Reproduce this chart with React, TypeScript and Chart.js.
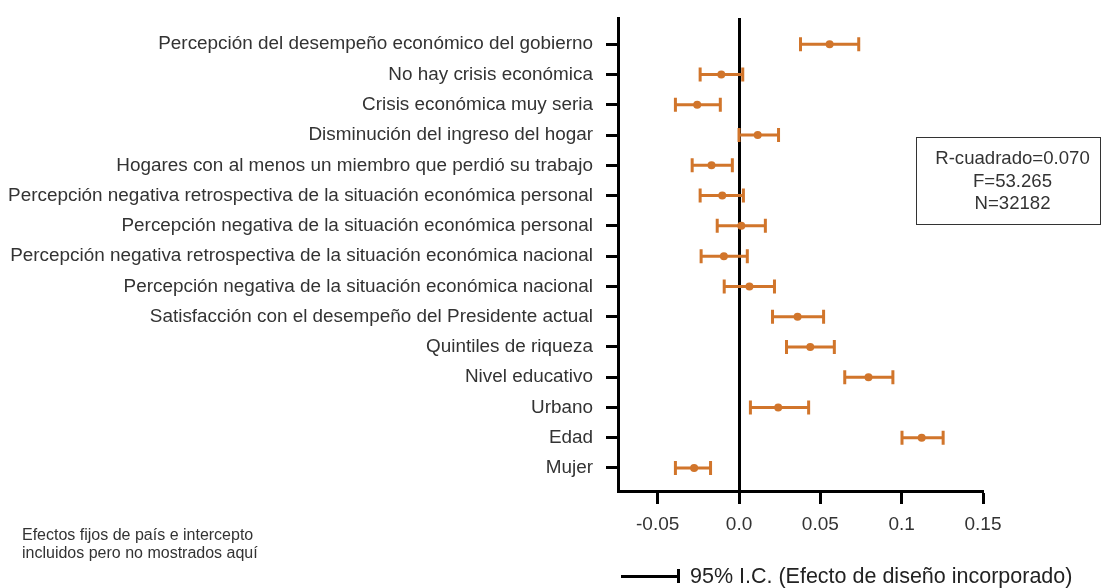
import React, { useEffect, useRef } from "react";
import { Chart, registerables } from "chart.js";

Chart.register(...registerables);

const categories = [
  "Percepción del desempeño económico del gobierno",
  "No hay crisis económica",
  "Crisis económica muy seria",
  "Disminución del ingreso del hogar",
  "Hogares con al menos un miembro que perdió su trabajo",
  "Percepción negativa retrospectiva de la situación económica personal",
  "Percepción negativa de la situación económica personal",
  "Percepción negativa retrospectiva de la situación económica nacional",
  "Percepción negativa de la situación económica nacional",
  "Satisfacción con el desempeño del Presidente actual",
  "Quintiles de riqueza",
  "Nivel educativo",
  "Urbano",
  "Edad",
  "Mujer",
];

const estimates = [0.0557, -0.0109, -0.0257, 0.0115, -0.0169, -0.0103, 0.0014, -0.0093, 0.0064, 0.036, 0.0438, 0.0796, 0.0241, 0.1123, -0.0276];
const lowerCI = [0.0378, -0.0239, -0.0391, 0.0, -0.0288, -0.0239, -0.0134, -0.0233, -0.0091, 0.0206, 0.0292, 0.065, 0.007, 0.1002, -0.0391];
const upperCI = [0.0736, 0.0023, -0.0115, 0.0243, -0.0041, 0.0027, 0.0162, 0.0051, 0.0218, 0.052, 0.0586, 0.0946, 0.0428, 0.1255, -0.0175];

const xTickValues = [-0.05, 0, 0.05, 0.1, 0.15];
const xTickLabels = ["-0.05", "0.0", "0.05", "0.1", "0.15"];

const statsLines = ["R-cuadrado=0.070", "F=53.265", "N=32182"];
const noteLines = ["Efectos fijos de país e intercepto", "incluidos pero no mostrados aquí"];
const legendLabel = "95% I.C. (Efecto de diseño incorporado)";

const ORANGE = "#D1752B";
const TEXT = "#333333";
const FONT = "'Liberation Sans', Arial, Helvetica, sans-serif";

const errorBarPlugin = {
  id: "errorBars",
  beforeDatasetsDraw(chart: any) {
    const { ctx, chartArea, scales } = chart;
    const xs = scales.x;
    const ys = scales.y;
    ctx.save();
    const x0 = Math.round(xs.getPixelForValue(0)) + 0.5;
    ctx.strokeStyle = "#000";
    ctx.lineWidth = 3;
    ctx.beginPath();
    ctx.moveTo(x0, chartArea.top);
    ctx.lineTo(x0, chartArea.bottom);
    ctx.stroke();
    ctx.strokeStyle = ORANGE;
    ctx.lineWidth = 3;
    for (let i = 0; i < categories.length; i++) {
      const y = ys.getPixelForValue(i);
      const a = xs.getPixelForValue(lowerCI[i]);
      const b = xs.getPixelForValue(upperCI[i]);
      ctx.beginPath();
      ctx.moveTo(a, y);
      ctx.lineTo(b, y);
      ctx.moveTo(a, y - 7);
      ctx.lineTo(a, y + 7);
      ctx.moveTo(b, y - 7);
      ctx.lineTo(b, y + 7);
      ctx.stroke();
    }
    ctx.restore();
  },
};

export default function App() {
  const ref = useRef<HTMLCanvasElement | null>(null);
  useEffect(() => {
    document.body.style.margin = "0";
    if (!ref.current) return;
    const chart = new Chart(ref.current, {
      type: "scatter",
      data: {
        datasets: [
          {
            data: estimates.map((v, i) => ({ x: v, y: i })),
            backgroundColor: ORANGE,
            borderColor: ORANGE,
            pointRadius: 4,
            pointBorderWidth: 0,
          },
        ],
      },
      options: {
        animation: false,
        responsive: false,
        maintainAspectRatio: false,
        layout: { padding: { left: 0, top: 18, right: 124, bottom: 0 } },
        plugins: { legend: { display: false }, tooltip: { enabled: false } },
        scales: {
          x: {
            type: "linear",
            min: -0.0744,
            max: 0.15,
            afterBuildTicks: (s: any) => {
              s.ticks = xTickValues.map((v) => ({ value: v }));
            },
            afterFit: (s: any) => {
              s.height = 97;
              s.paddingLeft = 0;
              s.paddingRight = 0;
            },
            ticks: {
              autoSkip: false,
              maxRotation: 0,
              padding: 9,
              color: TEXT,
              font: { family: FONT, size: 19 },
              callback: (v: any) => {
                const idx = xTickValues.findIndex((t) => Math.abs(t - v) < 1e-9);
                return idx >= 0 ? xTickLabels[idx] : "";
              },
            },
            grid: { drawOnChartArea: false, drawTicks: true, tickLength: 13, tickWidth: 3, tickColor: "#000" },
            border: { display: true, width: 3, color: "#000" },
          },
          y: {
            type: "linear",
            reverse: true,
            min: -0.868,
            max: 14.76,
            afterBuildTicks: (s: any) => {
              s.ticks = categories.map((_, i) => ({ value: i }));
            },
            afterFit: (s: any) => {
              s.width = 618;
              s.paddingTop = 0;
              s.paddingBottom = 0;
            },
            ticks: {
              autoSkip: false,
              padding: 13,
              color: TEXT,
              font: { family: FONT, size: 18.9 },
              callback: (v: any) => categories[Math.round(v)] ?? "",
            },
            grid: { drawOnChartArea: false, drawTicks: true, tickLength: 12, tickWidth: 3, tickColor: "#000" },
            border: { display: true, width: 3, color: "#000" },
          },
        },
      },
      plugins: [errorBarPlugin],
    });
    return () => chart.destroy();
  }, []);

  return (
    <div style={{ position: "relative", width: 1107, height: 588, fontFamily: FONT, color: TEXT }}>
      <canvas ref={ref} width={1107} height={588} style={{ position: "absolute", left: 0, top: 0 }} />
      <div
        style={{
          position: "absolute",
          left: 916,
          top: 137,
          width: 185,
          height: 88,
          boxSizing: "border-box",
          border: "1px solid #333",
          display: "flex",
          flexDirection: "column",
          justifyContent: "center",
          alignItems: "center",
          paddingLeft: 8,
          fontSize: 18.6,
          lineHeight: "22.5px",
        }}
      >
        {statsLines.map((l) => (
          <div key={l}>{l}</div>
        ))}
      </div>
      <div style={{ position: "absolute", left: 22, top: 526, fontSize: 16, lineHeight: "18px" }}>
        {noteLines.map((l) => (
          <div key={l}>{l}</div>
        ))}
      </div>
      <div style={{ position: "absolute", left: 621, top: 565, height: 22, display: "flex", alignItems: "center" }}>
        <div style={{ position: "relative", width: 60, height: 14, marginRight: 9 }}>
          <div style={{ position: "absolute", left: 0, top: 5.5, width: 58, height: 3, background: "#000" }} />
          <div style={{ position: "absolute", left: 56, top: 0, width: 3, height: 14, background: "#000" }} />
        </div>
        <span style={{ fontSize: 21.5, color: "#222" }}>{legendLabel}</span>
      </div>
    </div>
  );
}
